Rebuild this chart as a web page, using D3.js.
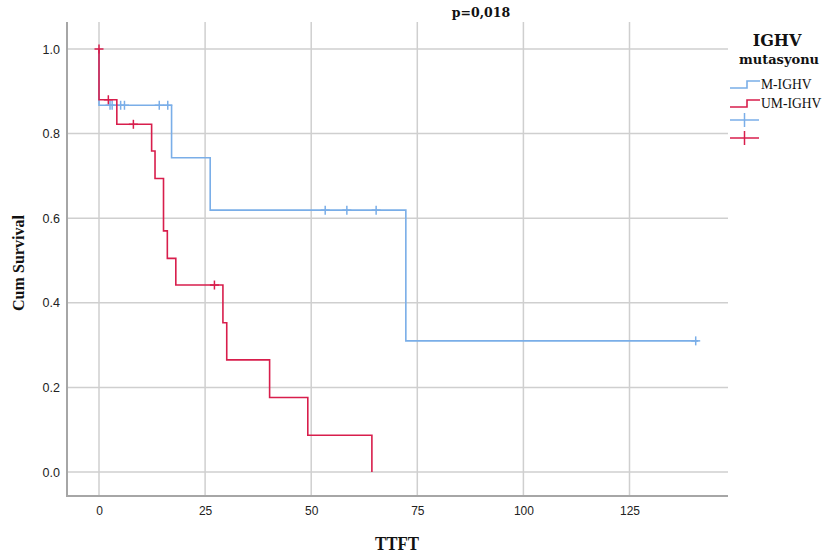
<!DOCTYPE html>
<html>
<head>
<meta charset="utf-8">
<script src="https://cdn.jsdelivr.net/npm/d3@7/dist/d3.min.js"></script>
<style>
  html, body { margin: 0; padding: 0; background: #fff; }
  svg { display: block; }
</style>
</head>
<body>
<svg id="chart" width="825" height="555"></svg>
<script>
// ---- data ----
const groups = ["M-IGHV", "UM-IGHV"];
const colors = ["#7aaee8", "#d81e4c"];

// M-IGHV step function: event times and survival after each event
const mTimes = [0, 17.1, 26.2, 72.3];
const mSurv = [0.867, 0.743, 0.619, 0.31];
const mCensor = [2.6, 3.1, 5.1, 6.0, 14.2, 16.2, 53.3, 58.4, 65.3, 140.6];
const mEnd = 141.2;

// UM-IGHV step function
const umTimes = [0, 4.2, 12.4, 13.2, 15.2, 16.1, 18.1, 29.2, 30.1, 40.2, 49.2, 64.3];
const umSurv = [0.88, 0.822, 0.759, 0.694, 0.570, 0.505, 0.442, 0.353, 0.265, 0.176, 0.087, 0];
const umCensor = [0, 2.2, 8.1, 27.2];
const umEnd = 64.3;

const xTicks = [0, 25, 50, 75, 100, 125];
const yTicks = [0, 0.2, 0.4, 0.6, 0.8, 1.0];

const titleText = "p=0,018";
const xTitle = "TTFT";
const yTitle = "Cum Survival";
const legendTitle1 = "IGHV";
const legendTitle2 = "mutasyonu";

// ---- layout ----
const svg = d3.select("#chart");
const x = d3.scaleLinear().domain([0, 125]).range([99, 629.5]);
const y = d3.scaleLinear().domain([0, 1]).range([472, 49]);
const plotLeft = 67, plotRight = 728, plotTop = 22, plotBottom = 496;

// gridlines
const gGrid = svg.append("g");
gGrid.selectAll("line.v").data(xTicks).join("line")
  .attr("x1", d => x(d)).attr("x2", d => x(d))
  .attr("y1", plotTop).attr("y2", plotBottom)
  .attr("stroke", "#cfcfcf").attr("stroke-width", 1.5);
gGrid.selectAll("line.h").data(yTicks).join("line")
  .attr("x1", plotLeft).attr("x2", plotRight)
  .attr("y1", d => y(d)).attr("y2", d => y(d))
  .attr("stroke", "#cfcfcf").attr("stroke-width", 1.5);

// axes lines
svg.append("line").attr("x1", plotLeft).attr("x2", plotLeft)
  .attr("y1", plotTop).attr("y2", plotBottom + 1)
  .attr("stroke", "#a6a6a6").attr("stroke-width", 2);
svg.append("line").attr("x1", plotLeft - 1).attr("x2", plotRight)
  .attr("y1", plotBottom).attr("y2", plotBottom)
  .attr("stroke", "#a6a6a6").attr("stroke-width", 2);

// tick labels via d3 axes (no tick lines)
const xAxis = d3.axisBottom(x).tickValues(xTicks).tickSize(0).tickPadding(0).tickFormat(d3.format("d"));
const gx = svg.append("g").attr("transform", `translate(0,${plotBottom + 10})`).call(xAxis);
gx.select(".domain").remove();
gx.selectAll("text").attr("font-family", "Liberation Sans, Arial, sans-serif")
  .attr("font-size", 12).attr("fill", "#222");

const yAxis = d3.axisLeft(y).tickValues(yTicks).tickSize(0).tickPadding(0).tickFormat(d3.format(".1f"));
const gy = svg.append("g").attr("transform", `translate(${plotLeft - 7},0)`).call(yAxis);
gy.select(".domain").remove();
gy.selectAll("text").attr("font-family", "Liberation Sans, Arial, sans-serif")
  .attr("font-size", 12.5).attr("fill", "#222");

// ---- survival curves ----
function stepPoints(times, surv, end) {
  const pts = [[0, 1]];
  let prev = 1;
  times.forEach((t, i) => {
    pts.push([t, prev]);
    pts.push([t, surv[i]]);
    prev = surv[i];
  });
  if (end > times[times.length - 1]) pts.push([end, prev]);
  return pts;
}
function survAt(times, surv, t) {
  let s = 1;
  times.forEach((tt, i) => { if (tt < t) s = surv[i]; });
  return s;
}
const line = d3.line().x(d => x(d[0])).y(d => y(d[1]));

const series = [
  { times: mTimes, surv: mSurv, censor: mCensor, end: mEnd, color: colors[0] },
  { times: umTimes, surv: umSurv, censor: umCensor, end: umEnd, color: colors[1] }
];

series.forEach(s => {
  svg.append("path")
    .attr("d", line(stepPoints(s.times, s.surv, s.end)))
    .attr("fill", "none").attr("stroke", s.color).attr("stroke-width", 1.6);
  const g = svg.append("g");
  s.censor.forEach(t => {
    const cx = x(t), cy = y(survAt(s.times, s.surv, t));
    g.append("line").attr("x1", cx).attr("x2", cx).attr("y1", cy - 4.5).attr("y2", cy + 4.5)
      .attr("stroke", s.color).attr("stroke-width", 1.5);
    g.append("line").attr("x1", cx - 4.5).attr("x2", cx + 4.5).attr("y1", cy).attr("y2", cy)
      .attr("stroke", s.color).attr("stroke-width", 1.5);
  });
});

// ---- titles ----
svg.append("text").attr("x", 481).attr("y", 17).attr("text-anchor", "middle")
  .attr("font-family", "DejaVu Serif, serif").attr("font-weight", "bold")
  .attr("font-size", 12.5).attr("fill", "#111").text(titleText);

svg.append("text").attr("x", 397).attr("y", 550).attr("text-anchor", "middle")
  .attr("font-family", "Liberation Serif, Times New Roman, serif").attr("font-weight", "bold")
  .attr("font-size", 18).attr("textLength", 44).attr("lengthAdjust", "spacingAndGlyphs")
  .attr("fill", "#111").text(xTitle);

svg.append("text").attr("transform", "translate(24,263) rotate(-90)").attr("text-anchor", "middle")
  .attr("font-family", "Liberation Serif, Times New Roman, serif").attr("font-weight", "bold")
  .attr("font-size", 17.5).attr("textLength", 96).attr("lengthAdjust", "spacingAndGlyphs")
  .attr("fill", "#111").text(yTitle);

// ---- legend ----
const lg = svg.append("g");
lg.append("text").attr("x", 777).attr("y", 46).attr("text-anchor", "middle")
  .attr("font-family", "DejaVu Serif, serif").attr("font-weight", "bold")
  .attr("font-size", 16).attr("fill", "#111").text(legendTitle1);
lg.append("text").attr("x", 779).attr("y", 64).attr("text-anchor", "middle")
  .attr("font-family", "DejaVu Serif, serif").attr("font-weight", "bold")
  .attr("font-size", 13).attr("fill", "#111").text(legendTitle2);

const legY = [88, 107];
groups.forEach((name, i) => {
  const ly = legY[i];
  lg.append("path")
    .attr("d", `M730,${ly} L747,${ly} L747,${ly - 7} L760,${ly - 7}`)
    .attr("fill", "none").attr("stroke", colors[i]).attr("stroke-width", 1.6);
  lg.append("text").attr("x", 761).attr("y", ly + 1)
    .attr("font-family", "Liberation Serif, Times New Roman, serif")
    .attr("font-size", 13.6).attr("fill", "#111").text(name);
});
const censY = [120, 138];
groups.forEach((name, i) => {
  const cy = censY[i];
  lg.append("line").attr("x1", 730).attr("x2", 759).attr("y1", cy).attr("y2", cy)
    .attr("stroke", colors[i]).attr("stroke-width", 1.5);
  lg.append("line").attr("x1", 744.5).attr("x2", 744.5).attr("y1", cy - 7).attr("y2", cy + 7)
    .attr("stroke", colors[i]).attr("stroke-width", 1.5);
});
</script>
</body>
</html>
